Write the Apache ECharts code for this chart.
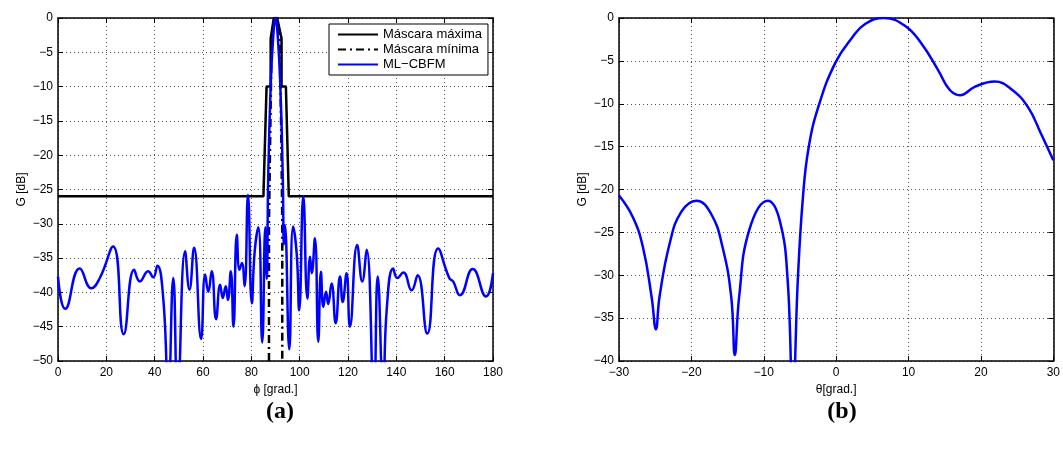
<!DOCTYPE html>
<html>
<head>
<meta charset="utf-8">
<script src="https://cdn.jsdelivr.net/npm/echarts@6/dist/echarts.min.js"></script>
<style>
html,body{margin:0;padding:0;background:#fff;}
#c{width:1063px;height:450px;}
</style>
</head>
<body>
<div id="c"></div>
<script>
// ---- Data (a): gain vs phi ----
const phiML = [0,3.0,9.0,13.8,17.3,22.8,27.2,31.5,33.9,37.3,39.4,41.1,43.6,45.6,47.7,49.5,52.6,54.4,56.3,59.2,60.9,62.2,63.6,65.4,67.1,68.2,69.4,70.3,71.5,72.6,74.0,75.1,76.1,77.2,78.6,80.2,81.4,82.9,84.5,85.8,86.4,87.0,88.0,89.0,90.0,91.0,92.0,93.0,93.5,93.9,95.7,97.3,98.8,99.8,101.5,103.2,104.3,105.0,106.3,107.7,108.8,109.8,110.9,111.8,113.2,114.9,116.7,117.8,119.4,120.8,123.8,125.9,127.7,130.7,132.3,134.6,136.0,138.7,140.4,142.9,146.3,148.8,152.8,157.3,161.9,163.5,166.3,171.6,177.1,180];
const gML = [-37.7,-42.4,-36.5,-39.4,-37.9,-33.3,-46.1,-36.7,-38.4,-36.9,-37.8,-36.1,-41.1,-55,-37.9,-55,-34.0,-39.6,-33.5,-46.8,-37.4,-39.9,-36.9,-43.9,-38.9,-40.8,-39.1,-41.1,-36.9,-45.0,-31.6,-36.7,-35.7,-39.1,-25.8,-41.6,-34.0,-30.5,-47.3,-30.5,-38,-23,-10,-3,0,-3,-10,-23,-33,-30.2,-48.3,-30.4,-34.5,-42.6,-26.0,-40.9,-34.8,-37.2,-32.1,-47.2,-37.0,-42.1,-39.9,-41.7,-38.7,-44.5,-37.7,-41.4,-37.2,-45.0,-33.1,-38.4,-33.8,-55,-37.7,-55,-42.6,-36.5,-37.9,-37.1,-39.7,-37.5,-46.0,-33.6,-37.9,-38.4,-40.4,-36.6,-40.6,-37.2];

const maskMaxPhi = [0,85,86.3,88,88,89.3,90.7,92.5,92.5,94.3,95.5,180];
const maskMaxG   = [-26,-26,-10,-10,-3,0,0,-3,-10,-10,-26,-26];

const maskMinPhi = [87.3,87.3,87.7,88.4,89.3,90.7,91.8,92.5,92.8,92.8];
const maskMinG   = [-50,-30,-20,-3,-1,-1,-3,-20,-30,-50];

// ---- Data (b): gain vs theta ----
const thetaDeg = [-30,-28.1,-26.7,-25.5,-24.9,-24.4,-23.0,-21.4,-19.3,-17.3,-15.7,-14.5,-14.0,-13.4,-12.0,-9.45,-7.8,-6.7,-6.0,-5.3,-4.6,-3.8,-2.4,-0.1,2.2,4.0,6.6,9.5,11.8,14.1,15.7,17.1,19.2,21.9,24.2,26.5,28.3,30];
const gTheta   = [-20.7,-23.2,-26.7,-32.5,-36.3,-32.5,-26.3,-22.6,-21.3,-22.8,-26.7,-32.5,-39.3,-32.5,-24.7,-21.3,-23.6,-30.6,-45,-30.6,-21.0,-15.1,-10.2,-5.2,-2.3,-0.7,0,-0.9,-3.0,-6.1,-8.4,-9.0,-8.0,-7.4,-8.3,-10.4,-13.5,-16.6];

// tick settings
const phiTicks = {min:0, max:180, interval:20};
const gTicksA  = {min:-50, max:0, interval:5};
const thetaTicks = {min:-30, max:30, interval:10};
const gTicksB  = {min:-40, max:0, interval:5};

const zip = (a,b) => a.map((v,i)=>[v,b[i]]);
const FONT = 'Liberation Sans, Arial, Helvetica, sans-serif';
const fmt = v => String(v).replace('-', '\u2212');

function mainAxis(gridIndex, t, pos, name, nameGap, isY) {
  return {
    type:'value', gridIndex, position:pos, min:t.min, max:t.max, interval:t.interval,
    name, nameLocation:'middle', nameGap,
    nameTextStyle:{fontFamily:FONT, fontSize:12, color:'#000'},
    axisLine:{show:true, onZero:false, lineStyle:{color:'#000', width:1.5}},
    axisTick:{show:true, inside:true, length:5, lineStyle:{color:'#000', width:1}},
    axisLabel:{show:true, fontFamily:FONT, fontSize:12, color:'#000', margin:isY?5:6, formatter:fmt},
    splitLine:{show:true, lineStyle:{color:'#555', width:1, type:[1,3]}}
  };
}
function boxAxis(gridIndex, t, pos) {
  return {
    type:'value', gridIndex, position:pos, min:t.min, max:t.max, interval:t.interval,
    axisLine:{show:true, onZero:false, lineStyle:{color:'#000', width:1.5}},
    axisTick:{show:true, inside:true, length:5, lineStyle:{color:'#000', width:1}},
    axisLabel:{show:false}, splitLine:{show:false}
  };
}

const chart = echarts.init(document.getElementById('c'), null, {renderer:'canvas'});
chart.setOption({
  animation:false,
  backgroundColor:'#fff',
  title:[
    {text:'(a)', left:275, top:395, textAlign:'center',
     textStyle:{fontFamily:'Liberation Serif, DejaVu Serif, serif', fontWeight:'bold', fontSize:24, color:'#000'}},
    {text:'(b)', left:837, top:395, textAlign:'center',
     textStyle:{fontFamily:'Liberation Serif, DejaVu Serif, serif', fontWeight:'bold', fontSize:24, color:'#000'}}
  ],
  grid:[
    {left:58, top:18, width:435, height:343},
    {left:619, top:18, width:436, height:343}
  ],
  xAxis:[
    mainAxis(0, phiTicks, 'bottom', '\u03D5 [grad.]', 20, false),
    boxAxis(0, phiTicks, 'top'),
    mainAxis(1, thetaTicks, 'bottom', '\u03B8[grad.]', 20, false),
    boxAxis(1, thetaTicks, 'top')
  ],
  yAxis:[
    mainAxis(0, gTicksA, 'left', 'G [dB]', 30, true),
    boxAxis(0, gTicksA, 'right'),
    mainAxis(1, gTicksB, 'left', 'G [dB]', 30, true),
    boxAxis(1, gTicksB, 'right')
  ],
  legend:{
    orient:'vertical', left:329, top:24,
    backgroundColor:'#fff', borderColor:'#000', borderWidth:1, borderRadius:0,
    padding:[4,6,4,8], itemGap:2, itemWidth:40, itemHeight:15,
    itemStyle:{opacity:0},
    textStyle:{fontFamily:FONT, fontSize:13, color:'#000'},
    data:['Máscara máxima','Máscara mínima','ML\u2212CBFM']
  },
  series:[
    {name:'Máscara máxima', type:'line', xAxisIndex:0, yAxisIndex:0, data:zip(maskMaxPhi, maskMaxG),
     symbol:'none', lineStyle:{color:'#000', width:2.5}, itemStyle:{color:'#000'}},
    {name:'Máscara mínima', type:'line', xAxisIndex:0, yAxisIndex:0, data:zip(maskMinPhi, maskMinG),
     symbol:'none', lineStyle:{color:'#000', width:2.5, type:[8,4,2,4]}, itemStyle:{color:'#000'}},
    {name:'ML\u2212CBFM', type:'line', xAxisIndex:0, yAxisIndex:0, data:zip(phiML, gML),
     symbol:'none', smooth:0.5, clip:true, lineStyle:{color:'#0000ff', width:2.5}, itemStyle:{color:'#0000ff'}},
    {name:'theta', type:'line', xAxisIndex:2, yAxisIndex:2, data:zip(thetaDeg, gTheta),
     symbol:'none', smooth:0.45, clip:true, lineStyle:{color:'#0000ff', width:2.5}, itemStyle:{color:'#0000ff'}}
  ]
});
</script>
</body>
</html>
